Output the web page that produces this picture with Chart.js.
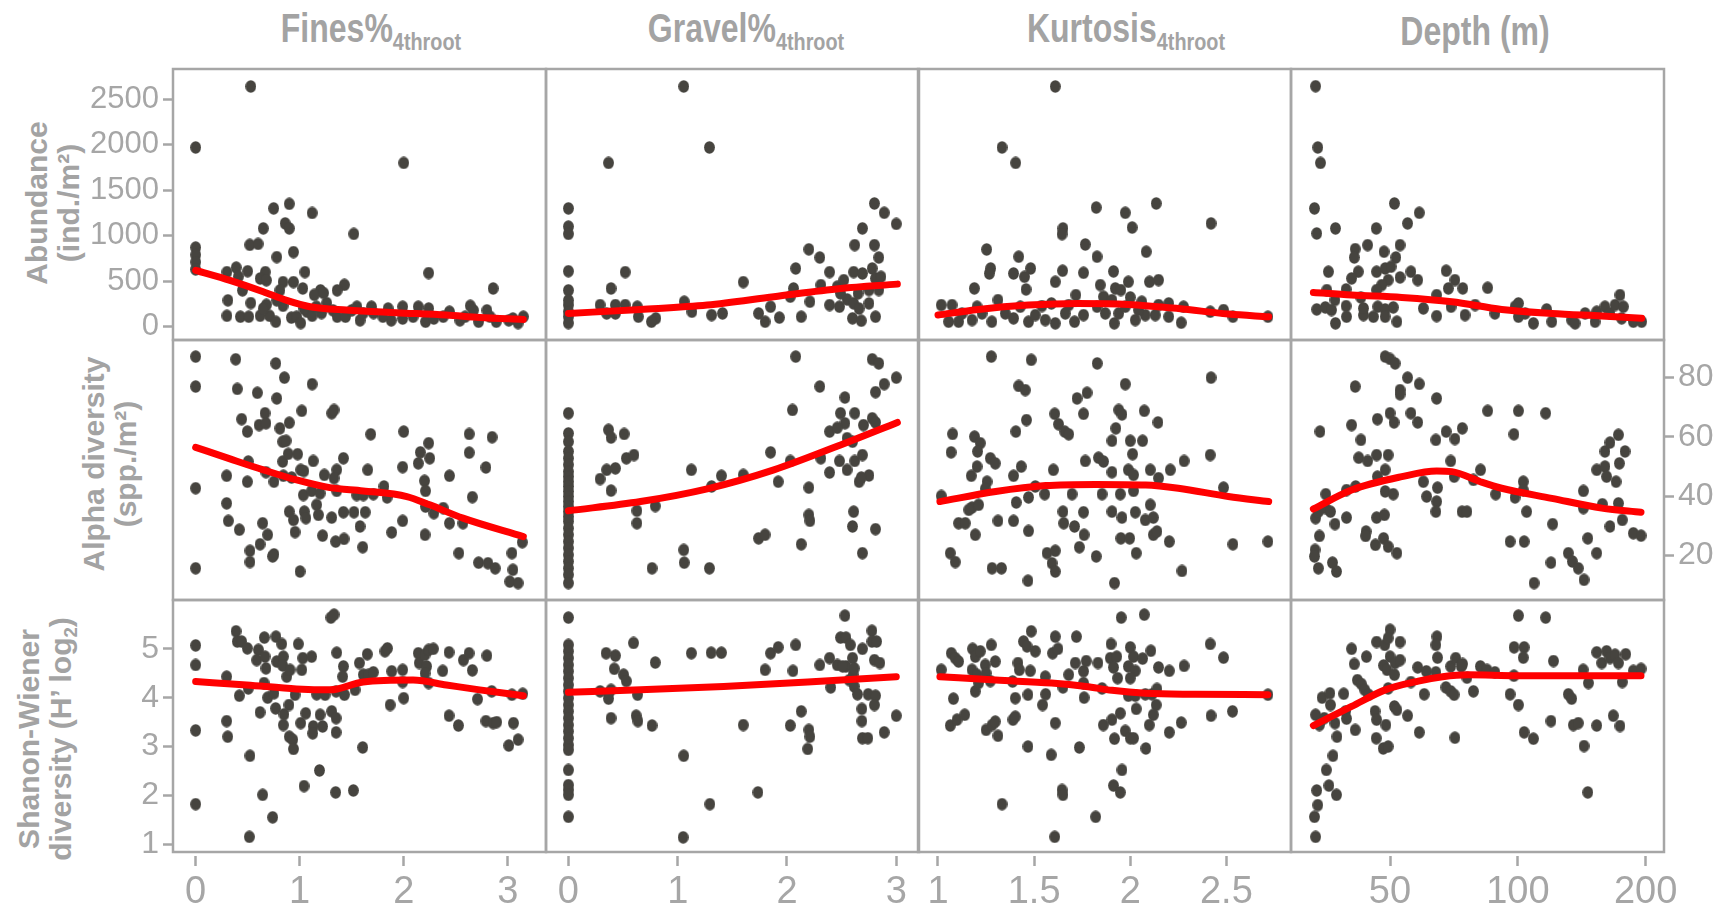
<!DOCTYPE html>
<html>
<head>
<meta charset="utf-8">
<script src="https://cdn.jsdelivr.net/npm/chart.js@4.4.0/dist/chart.umd.min.js"></script>
<style>
  body { margin: 0; width: 1722px; height: 913px; overflow: hidden; background: #fff; position: relative; }
  canvas { position: absolute; }
  .col-title, .row-label {
    position: absolute; color: #a3a3a3; font-family: 'Liberation Sans Narrow', 'Liberation Sans', sans-serif;
    font-weight: bold; white-space: nowrap; text-align: center;
  }
  .col-title { font-size: 40px; transform: translate(-50%, -50%) scaleX(0.8); }
  .row-label { font-size: 30px; line-height: 32px; transform: translate(-50%, -50%) rotate(-90deg); }
  sub { font-size: 62%; vertical-align: -0.3em; }
</style>
</head>
<body>
<div class="col-title" style="left:371px; top:31px">Fines%<sub>4throot</sub></div>
<div class="col-title" style="left:746px; top:31px">Gravel%<sub>4throot</sub></div>
<div class="col-title" style="left:1126px; top:31px">Kurtosis<sub>4throot</sub></div>
<div class="col-title" style="left:1475px; top:31px">Depth (m)</div>
<div class="row-label" style="left:53px; top:203px">Abundance<br>(ind./m²)</div>
<div class="row-label" style="left:110px; top:464px">Alpha diversity<br>(spp./m²)</div>
<div class="row-label" style="left:50px; top:739px">Shanon-Wiener<br>diversity (H’ log<sub>2</sub>)</div>

<script>
// tick values
const abundTicks = [0, 500, 1000, 1500, 2000, 2500];
const alphaTicks = [20, 40, 60, 80];
const shanTicks = [1, 2, 3, 4, 5];
const finesTicks = [0, 1, 2, 3];
const gravelTicks = [0, 1, 2, 3];
const kurtTicks = [1, 1.5, 2, 2.5];
const depthTicks = [50, 100, 200];

// ---- Abundance row ----
const abundFines = [[0.53,2640],[0,1970],[2.0,1800],[0.90,1350],[0.75,1300],[1.12,1250],[0.65,1080],[0.86,1135],[0.90,1080],[1.52,1020],[0.52,900],[0.60,910],[0.94,820],[0.78,765],[0,870],[0,790],[0,710],[0,630],[0.30,600],[0.39,650],[0.50,610],[0.67,600],[0.62,530],[0.68,510],[1.05,600],[2.24,590],[2.86,420],[0.41,550],[0.45,400],[0.84,490],[0.94,490],[0.81,400],[1.03,420],[1.43,460],[1.36,400],[1.20,400],[1.14,350],[0.31,290],[0.53,260],[0.68,240],[0.84,230],[0.30,120],[0.43,110],[0.51,110],[0.62,120],[0.71,120],[0.77,55],[0.92,100],[0.97,110],[1.01,40],[1.07,165],[1.12,120],[1.04,200],[1.21,150],[1.26,260],[1.32,180],[1.36,110],[1.44,110],[1.55,220],[1.58,70],[1.61,150],[1.69,220],[1.71,150],[1.85,200],[1.88,70],[1.99,220],[1.99,90],[2.14,220],[2.21,55],[2.24,200],[2.29,90],[2.38,110],[2.44,165],[2.54,70],[2.64,230],[2.67,180],[2.59,110],[2.72,55],[2.80,180],[2.83,110],[2.89,55],[3.01,70],[3.05,90],[3.10,40],[3.15,110],[1.80,110],[2.09,110],[1.23,370],[0.78,290],[0.65,200],[1.16,220],[1.50,180]];
const abundFinesFit = [[0,620],[0.33,510],[0.65,385],[0.875,290],[1.10,220],[1.45,183],[1.93,154],[2.41,128],[2.73,102],[3.15,80]];

const abundGravel = [[1.055,2640],[1.29,1970],[0.367,1800],[0,1300],[0,1100],[0,1020],[0,610],[0,400],[0,238],[0,165],[0,110],[0,40],[0,290],[2.80,1354],[2.89,1252],[3.0,1130],[2.69,1080],[2.62,897],[2.80,897],[2.20,850],[2.30,760],[2.84,760],[2.08,640],[2.39,600],[2.61,600],[2.69,585],[2.78,640],[2.81,530],[0.52,600],[1.60,490],[0.39,420],[2.06,420],[2.31,458],[2.46,440],[2.52,512],[2.75,403],[2.03,330],[2.21,275],[2.39,238],[2.48,220],[2.55,300],[2.61,256],[2.66,200],[2.75,256],[2.60,92],[2.68,66],[2.81,110],[2.13,110],[1.93,100],[1.85,220],[1.74,146],[1.80,55],[1.41,146],[1.31,128],[1.13,165],[1.06,275],[0.80,92],[0.76,55],[0.63,220],[0.64,110],[0.52,238],[0.43,238],[0.43,146],[0.35,146],[0.29,238],[2.84,403],[2.49,366],[2.65,366],[2.86,549]];
const abundGravelFit = [[0,146],[0.66,190],[1.27,238],[1.88,330],[2.49,420],[3.01,468]];

const abundKurt = [[1.61,2640],[1.333,1970],[1.404,1800],[1.823,1310],[1.974,1252],[2.135,1354],[2.01,1090],[2.42,1135],[1.65,1080],[1.645,1017],[1.766,904],[1.827,769],[2.083,824],[1.253,849],[1.274,640],[1.267,585],[1.42,769],[1.393,585],[1.482,640],[1.45,549],[1.458,410],[1.648,615],[1.61,494],[1.757,593],[1.913,608],[1.99,494],[1.844,458],[1.922,421],[1.951,403],[2.147,512],[2.10,494],[1.189,421],[1.717,348],[1.861,329],[1.905,293],[2.0,322],[2.06,275],[1.017,238],[1.073,238],[1.203,220],[1.312,293],[1.428,220],[1.54,227],[1.59,256],[1.68,238],[1.827,220],[2.147,238],[2.20,256],[2.277,220],[2.416,165],[2.485,183],[2.534,110],[2.716,110],[1.055,55],[1.107,55],[1.177,73],[1.28,55],[1.393,92],[1.471,55],[1.506,128],[1.558,73],[1.61,37],[1.71,55],[1.757,128],[1.917,37],[1.94,146],[2.026,73],[2.078,128],[2.13,128],[2.265,44],[2.20,110],[1.125,146],[1.229,146],[1.35,146],[1.662,146],[1.87,146],[1.974,220],[2.043,183]];
const abundKurtFit = [[1.0,128],[1.21,190],[1.47,238],[1.73,256],[1.99,245],[2.25,200],[2.51,139],[2.72,110]];

const abundDepth = [[33.4,2643],[33.8,1970],[34.3,1800],[33.2,1300],[33.6,1025],[37.2,1080],[51.2,1354],[58.6,1252],[55.0,1135],[46.4,1080],[44.3,897],[41.4,853],[41.2,761],[48.4,824],[52.8,897],[51.6,761],[35.8,604],[42.1,604],[40.6,531],[46.5,604],[48.7,640],[50.3,659],[52.8,542],[56.0,604],[58.1,512],[49.5,512],[47.8,458],[46.5,403],[39.4,410],[35.5,403],[42.7,322],[37.1,293],[33.6,190],[35.2,212],[36.4,183],[39.4,227],[39.5,110],[37.2,37],[43.3,128],[45.7,110],[46.8,220],[48.7,190],[50.9,212],[51.9,55],[48.7,110],[59.9,201],[64.4,348],[64.4,117],[67.8,615],[68.6,421],[71.1,512],[74.2,421],[69.6,220],[75.1,128],[79.3,238],[84.9,428],[88.3,146],[98.5,220],[100.3,256],[104,146],[108.8,37],[116.9,190],[120.2,55],[133.9,73],[144,146],[153.4,165],[160.4,220],[164.8,146],[169.4,238],[174.0,348],[177.2,220],[175.6,92],[187.1,55],[195.7,55],[136.4,37],[152,55],[100.3,110],[43.3,201]];
const abundDepthFit = [[33.0,377],[40.6,348],[53.3,322],[69.9,275],[91.6,190],[120.2,146],[157.6,117],[195.7,92]];

// ---- Alpha diversity row ----
const alphaFines = [[0,87.1],[0,77.0],[0,42.7],[0,15.7],[0.385,86.2],[0.40,76.2],[0.77,84.8],[0.853,80],[1.12,77.8],[0.593,74.9],[0.78,73.0],[0.442,66.0],[0.497,61.8],[0.61,64.0],[0.667,68.0],[0.676,64.6],[0.81,62.9],[0.90,64.8],[1.02,68.8],[1.308,68.0],[1.33,69.1],[0.837,58.4],[0.869,58.7],[1.683,60.9],[2.0,61.8],[2.63,61.0],[2.85,59.9],[2.63,54.7],[2.24,57.9],[2.16,54.8],[2.25,52.8],[2.14,51.1],[1.99,49.8],[2.79,49.7],[2.44,46.9],[2.20,45.2],[2.21,41.8],[2.66,39.7],[2.21,36.5],[2.29,34.3],[2.38,36.0],[2.44,30.9],[2.57,30.9],[2.53,20.8],[2.72,17.6],[2.81,17.4],[2.88,15.7],[3.04,20.8],[3.05,15.2],[3.02,11.2],[3.10,10.7],[3.14,24.5],[0.506,51.7],[0.676,48.1],[0.837,51.7],[0.89,54.3],[0.98,54.2],[1.13,51.9],[1.01,48.9],[1.04,48.5],[0.843,46.9],[0.298,46.9],[0.497,44.9],[0.753,44.9],[0.923,46.3],[1.237,47.2],[1.356,48.9],[1.33,46.1],[1.42,52.8],[1.654,48.9],[1.035,40.4],[1.115,41.8],[1.196,41.0],[1.356,41.8],[1.548,40.4],[1.612,40.4],[1.708,40.7],[1.81,43.3],[1.84,39.6],[0.298,37.6],[0.90,34.8],[0.94,32.0],[1.045,34.8],[1.06,32.6],[1.163,37.1],[1.18,33.7],[1.308,32.8],[1.42,34.6],[1.522,34.6],[1.63,34.6],[0.314,31.7],[0.42,28.7],[0.644,30.9],[0.692,27.0],[0.619,23.8],[0.522,21.6],[0.522,17.8],[0.753,20.4],[0.74,19.7],[0.955,27.9],[1.22,26.7],[1.346,24.7],[1.426,25.6],[1.58,29.8],[1.606,22.8],[1.885,27.8],[1.99,31.7],[2.205,27.0],[1.003,14.6]];
const alphaFinesFit = [[0,56.5],[0.33,52.6],[0.65,48.9],[0.97,45.5],[1.29,42.9],[1.61,41.8],[2.03,39.9],[2.25,37.1],[2.57,32.6],[3.15,26.4]];

const alphaGravel = [[0,68.0],[0,61.2],[0,58.4],[0,55.1],[0,52.8],[0,50.6],[0,48.3],[0,46.6],[0,44.9],[0,43.3],[0,41.6],[0,39.9],[0,38.2],[0,36.5],[0,34.8],[0,33.1],[0,31.5],[0,29.2],[0,27.0],[0,24.7],[0,22.5],[0,20.2],[0,18.0],[0,15.7],[0,13.5],[0,10.7],
  [2.08,87.1],[2.78,86.2],[2.84,84.8],[3.0,80.0],[2.89,77.8],[2.30,77.0],[2.81,75.1],[2.53,73.3],[2.05,69.1],[2.49,68.0],[2.62,68.0],[2.53,64.6],[2.70,64.0],[2.78,66.3],[2.81,64.9],[2.39,61.8],[2.46,63.1],[2.55,59.6],[2.60,58.4],[0.367,62.4],[0.39,59.8],[0.51,61.0],[0.53,52.8],[0.60,53.9],[1.85,54.8],[2.03,51.9],[2.31,52.8],[2.48,51.9],[2.62,51.9],[2.69,53.9],[2.55,48.9],[2.39,48.0],[0.29,45.8],[0.35,48.9],[0.43,49.4],[0.39,41.9],[1.125,48.9],[1.40,46.9],[1.60,47.2],[1.31,43.3],[1.92,44.9],[2.20,42.9],[2.66,44.9],[2.75,47.0],[2.68,46.3],[0.627,35.1],[0.627,30.9],[0.795,36.7],[2.20,33.7],[2.21,31.7],[2.61,34.8],[2.60,29.8],[2.81,28.9],[1.74,25.8],[1.80,27.0],[2.13,23.8],[2.69,20.8],[1.055,21.9],[1.06,17.6],[0.765,15.7],[1.29,15.7]];
const alphaGravelFit = [[0,35.1],[0.66,38.2],[1.27,42.5],[1.88,48.9],[2.49,57.3],[3.01,64.9]];

const alphaKurt = [[1.277,87.1],[1.485,86.0],[1.828,84.8],[2.42,80.0],[1.974,77.8],[1.42,77.2],[1.454,75.8],[1.723,73.0],[1.775,74.9],[1.757,67.8],[1.607,67.8],[1.46,65.7],[1.627,64.3],[1.659,61.8],[1.68,60.9],[1.94,69.1],[1.957,67.6],[2.073,68.8],[2.144,64.9],[1.925,62.9],[1.905,58.7],[2.0,58.7],[2.064,58.7],[2.012,54.2],[2.416,53.9],[1.405,61.8],[1.076,61.0],[1.068,54.8],[1.19,60.1],[1.22,57.9],[1.206,55.1],[1.272,52.8],[1.298,51.1],[1.203,50.0],[1.173,46.9],[1.433,50.0],[1.393,46.9],[1.60,48.9],[1.766,51.9],[1.835,53.0],[1.861,51.7],[1.905,48.1],[1.99,48.9],[2.017,47.2],[2.104,48.9],[2.147,46.1],[2.208,48.9],[2.28,51.9],[1.255,44.9],[1.246,42.5],[1.506,43.3],[1.017,40.1],[1.471,39.6],[1.555,40.7],[1.697,40.7],[1.853,40.7],[1.948,40.7],[2.017,41.8],[2.485,42.9],[1.407,37.9],[1.177,36.2],[1.211,37.1],[1.16,35.4],[1.107,30.9],[1.142,30.9],[1.194,27.0],[1.312,31.7],[1.393,31.7],[1.471,28.3],[1.65,34.8],[1.654,30.9],[1.71,29.8],[1.757,34.6],[1.76,27.0],[1.905,34.8],[1.957,32.8],[2.026,34.6],[2.104,37.1],[2.078,32.0],[2.12,32.8],[2.12,27.0],[2.139,28.1],[1.951,25.8],[1.997,25.8],[1.735,22.8],[2.203,24.7],[2.534,23.8],[2.716,24.7],[1.064,20.8],[1.09,17.8],[1.281,15.7],[1.33,15.7],[1.567,20.8],[1.61,21.6],[1.593,17.4],[1.61,14.6],[1.823,19.7],[2.031,20.8],[2.269,14.8],[1.468,11.5],[1.918,10.7]];
const alphaKurtFit = [[1.01,38.2],[1.30,41.6],[1.56,43.6],[1.82,44.0],[2.08,43.8],[2.25,42.7],[2.51,39.9],[2.72,38.2]];

const alphaDepth = [[48.7,87.1],[50,86.3],[51.4,84.8],[55.0,80.0],[58.6,77.9],[52.8,75.8],[52.8,74.4],[41.4,77.0],[64.4,73.0],[56.0,68.0],[58.1,64.9],[50.0,68.0],[51.1,64.9],[46.7,66.0],[40.6,64.0],[34.2,61.8],[42.7,59.0],[42.2,53.0],[44.3,51.9],[46.5,53.9],[49.5,53.9],[48.7,48.9],[46.7,46.6],[64.1,59.0],[67.8,61.8],[71.1,59.3],[74.0,62.9],[69.5,51.9],[70.8,46.6],[78.6,45.5],[81.7,48.9],[84.9,68.8],[100.3,68.8],[116.3,68.0],[97.9,60.9],[103,44.9],[103,42.1],[88.7,40.7],[98.5,39.6],[104.9,34.8],[59.9,44.9],[61.0,39.9],[64.7,42.9],[64.4,38.2],[64.1,34.8],[73.9,34.8],[75.9,34.8],[48.7,41.6],[50.9,40.7],[35.3,40.7],[39.5,42.1],[41.5,43.3],[33.4,32.6],[33.9,34.8],[35.2,36.0],[36.2,34.8],[37.1,30.6],[39.5,32.8],[46.5,32.8],[48.5,33.7],[43.9,28.1],[43.8,26.6],[46.2,23.6],[48.3,25.8],[49.5,23.0],[51.9,20.8],[34.1,26.6],[33.3,21.9],[33.2,19.7],[33.9,15.7],[36.6,17.6],[37.4,14.6],[95.9,24.7],[103.5,24.7],[120.8,30.6],[119.7,17.6],[109.2,10.7],[131.5,20.8],[134.4,18.0],[138.8,15.7],[143.2,11.8],[146.1,25.8],[153.4,20.8],[142.7,41.8],[142.7,36.0],[158.1,37.3],[153.4,48.9],[160.4,50.0],[161.8,46.6],[160.4,55.1],[164.8,58.1],[172.5,60.7],[178.8,55.1],[173.4,51.1],[170.3,44.9],[164.8,29.8],[176.2,32.0],[187.1,27.5],[195.0,26.7],[172.5,37.6]];
const alphaDepthFit = [[33.0,35.7],[40.6,42.1],[53.3,46.6],[64.4,48.5],[69.9,48.3],[81.6,44.9],[91.6,42.7],[120.2,39.3],[157.6,36.0],[195.0,34.6]];

// ---- Shannon-Wiener row ----
const shanFines = [[0,5.07],[0,4.67],[0,3.33],[0,1.82],[0.298,4.43],[0.298,3.52],[0.308,3.20],[0.388,5.36],[0.40,5.15],[0.442,5.15],[0.497,5.01],[0.42,4.04],[0.506,4.19],[0.522,2.81],[0.516,1.15],[0.603,4.98],[0.587,4.77],[0.66,5.23],[0.667,4.84],[0.676,4.60],[0.657,4.30],[0.692,4.0],[0.619,3.70],[0.644,2.01],[0.74,1.55],[0.772,5.25],[0.827,5.10],[0.779,4.74],[0.843,4.84],[0.837,4.66],[0.753,4.09],[0.769,3.78],[0.875,4.43],[0.907,4.57],[0.897,3.85],[0.849,3.66],[0.843,3.44],[0.90,3.20],[0.933,3.14],[0.94,2.95],[0.987,5.10],[1.03,4.81],[1.115,4.84],[1.02,4.57],[0.955,4.06],[1.01,3.48],[1.058,3.68],[1.13,3.41],[1.125,3.27],[1.163,4.07],[1.196,3.65],[1.22,3.41],[1.244,4.06],[1.308,3.72],[1.35,3.58],[1.35,3.29],[1.042,2.19],[1.19,2.51],[1.346,2.06],[1.516,2.10],[1.606,2.98],[1.30,5.64],[1.33,5.70],[1.356,4.92],[1.42,4.64],[1.413,4.43],[1.43,4.06],[1.532,4.16],[1.574,4.71],[1.65,4.89],[1.612,4.47],[1.66,4.47],[1.708,4.52],[1.82,4.95],[1.843,5.01],[1.885,4.54],[1.87,3.85],[1.99,4.57],[1.99,4.32],[2.0,3.99],[2.14,4.91],[2.15,4.71],[2.205,4.88],[2.24,4.98],[2.285,5.0],[2.22,4.64],[2.205,4.50],[2.24,4.30],[2.375,4.55],[2.436,4.93],[2.436,3.63],[2.526,3.43],[2.574,4.77],[2.628,4.91],[2.66,4.56],[2.71,3.97],[2.80,4.86],[2.79,3.52],[2.846,4.13],[2.86,3.48],[2.894,3.50],[3.01,3.02],[3.055,3.48],[3.10,3.14],[3.04,4.06],[3.144,4.08],[1.35,4.13]];
const shanFinesFit = [[0,4.33],[0.49,4.26],[0.97,4.18],[1.29,4.16],[1.61,4.32],[2.09,4.36],[2.41,4.26],[2.73,4.16],[3.15,4.04]];

const shanGravel = [[0,5.64],[0,5.08],[0,4.95],[0,4.81],[0,4.67],[0,4.54],[0,4.40],[0,4.26],[0,4.13],[0,3.99],[0,3.85],[0,3.72],[0,3.58],[0,3.44],[0,3.31],[0,3.17],[0,3.03],[0,2.93],[0,2.52],[0,2.21],[0,2.11],[0,2.01],[0,1.56],
  [0.345,4.91],[0.43,4.86],[0.42,4.59],[0.505,4.47],[0.53,4.34],[0.596,5.12],[0.795,4.72],[0.29,4.13],[0.367,4.09],[0.39,4.16],[0.367,3.98],[0.633,4.06],[0.39,3.58],[0.62,3.63],[0.636,3.52],[0.765,3.43],[1.125,4.91],[1.306,4.92],[1.40,4.92],[1.055,2.81],[1.294,1.82],[1.05,1.14],[1.60,3.44],[1.734,2.06],[1.80,4.57],[1.85,4.91],[1.92,5.03],[2.055,4.55],[2.08,5.08],[2.03,3.43],[2.13,3.72],[2.20,3.34],[2.21,3.20],[2.19,2.95],[2.30,4.67],[2.39,4.81],[2.40,4.21],[2.46,4.67],[2.53,5.68],[2.49,5.23],[2.54,5.23],[2.58,5.08],[2.54,4.64],[2.60,4.81],[2.605,4.47],[2.57,4.36],[2.615,4.23],[2.645,4.07],[2.69,5.0],[2.777,5.37],[2.777,5.15],[2.82,5.15],[2.80,4.77],[2.85,4.71],[2.743,4.07],[2.81,4.04],[2.80,3.85],[2.685,3.77],[2.685,3.52],[2.69,3.17],[2.74,3.17],[2.89,3.29],[3.0,3.63],[2.615,4.60],[2.51,4.64]];
const shanGravelFit = [[0,4.11],[0.66,4.16],[1.42,4.23],[2.19,4.32],[3.0,4.43]];

const shanKurt = [[1.017,4.57],[1.069,4.91],[1.09,4.81],[1.107,4.74],[1.18,5.0],[1.194,4.84],[1.22,4.95],[1.177,4.57],[1.203,4.47],[1.246,4.67],[1.25,4.50],[1.272,4.34],[1.277,5.08],[1.298,4.74],[1.194,4.13],[1.211,4.30],[1.08,3.98],[1.064,3.43],[1.099,3.55],[1.139,3.65],[1.25,3.34],[1.281,3.44],[1.298,3.51],[1.312,3.22],[1.333,1.82],[1.416,4.71],[1.423,4.57],[1.388,4.33],[1.402,3.99],[1.39,3.55],[1.445,5.15],[1.463,5.05],[1.485,5.36],[1.506,4.95],[1.48,4.55],[1.468,4.06],[1.558,4.43],[1.56,4.07],[1.544,3.85],[1.61,5.25],[1.596,4.91],[1.624,5.0],[1.65,4.21],[1.68,4.47],[1.714,4.71],[1.72,5.25],[1.61,3.48],[1.468,3.0],[1.589,2.83],[1.645,2.11],[1.65,2.01],[1.607,1.15],[1.735,2.98],[1.757,4.54],[1.771,4.75],[1.757,4.30],[1.76,4.0],[1.832,4.71],[1.853,4.19],[1.82,1.56],[1.86,3.44],[1.90,5.10],[1.896,4.81],[1.93,4.84],[1.913,4.62],[1.934,4.40],[1.905,3.55],[1.948,3.68],[1.918,3.16],[1.974,3.32],[2.0,3.17],[2.017,3.17],[1.957,2.52],[1.913,2.20],[1.948,2.06],[1.953,5.64],[2.073,5.70],[2.0,5.03],[2.017,4.84],[2.064,4.80],[2.107,4.96],[1.99,4.64],[2.026,4.55],[2.0,4.40],[1.99,4.04],[2.026,4.04],[2.031,3.77],[2.078,4.07],[2.113,4.07],[2.139,4.18],[2.135,3.85],[2.12,3.65],[2.099,3.44],[2.147,4.62],[2.203,4.55],[2.28,4.65],[2.203,3.29],[2.265,3.49],[2.081,2.96],[2.416,5.10],[2.485,4.82],[2.42,3.63],[2.532,3.72],[2.716,4.06],[1.402,3.61]];
const shanKurtFit = [[1.01,4.43],[1.30,4.36],[1.59,4.30],[1.77,4.23],[1.905,4.15],[2.08,4.09],[2.34,4.07],[2.716,4.06]];

const shanDepth = [[33.4,1.15],[33.2,1.56],[33.8,1.80],[33.6,2.10],[35.9,2.20],[37.4,2.01],[35.4,2.52],[36.7,2.81],[37.5,3.20],[37.1,3.48],[33.4,3.65],[34.1,3.44],[35.0,3.58],[34.6,4.0],[36.1,4.09],[38.9,4.08],[39.3,3.72],[39.5,3.57],[41.4,3.34],[40.6,5.0],[41.2,4.69],[41.9,4.36],[42.8,4.28],[43.6,4.16],[44.5,4.06],[46.1,3.72],[46.5,3.55],[46.4,3.17],[48.9,3.44],[48.2,2.96],[49.5,3.0],[46.5,5.14],[48.6,5.08],[50.0,5.39],[49.5,5.22],[52.8,5.14],[50.0,4.84],[48.3,4.66],[49.2,4.57],[51.4,4.71],[52.8,4.77],[51.2,4.47],[49.5,4.19],[51.2,3.82],[51.9,3.75],[55.0,3.63],[56.0,4.32],[58.1,4.62],[60.9,4.54],[60.2,4.07],[58.6,3.29],[64.5,5.25],[64.1,5.08],[64.7,4.82],[64.1,4.52],[67.7,4.21],[69.5,4.13],[70.8,4.06],[69.5,4.64],[71.4,4.81],[73.6,4.64],[74.1,4.69],[75.9,4.41],[71.1,3.18],[78.6,4.13],[81.6,4.64],[84.6,4.57],[88.3,4.52],[95.9,4.07],[97.9,4.45],[98.0,5.03],[100.3,5.68],[103.5,5.03],[103,4.82],[100.3,3.85],[103.5,3.29],[108.8,3.16],[116.3,5.64],[121.3,4.75],[119.7,3.52],[131.5,4.07],[133.9,3.98],[135.1,3.44],[138.8,3.48],[143.2,3.01],[142.5,4.57],[146.6,4.30],[146.1,2.06],[153.4,3.43],[153.4,4.93],[157.6,4.71],[161.8,4.95],[164.8,4.81],[169.4,4.88],[172.5,4.71],[179.5,4.89],[176.2,4.32],[167.8,3.63],[174.0,3.42],[187.1,4.55],[195.0,4.59],[36.2,3.85],[44.0,4.84]];
const shanDepthFit = [[33.0,3.43],[40.6,3.82],[48.7,4.16],[58.3,4.34],[66.5,4.43],[76.4,4.47],[100,4.45],[144,4.45],[195,4.45]];

// ---- layout ----
const GREY = '#a6a6a6';
const DOT = '#46443f';
const Y_FONT = "'Liberation Sans', Arial, sans-serif";
const X_FONT = "'Liberation Sans Narrow', 'Liberation Sans', sans-serif";
const colLeft = [173, 546, 918, 1291];
const colWidth = 373;
const rowTop = [69, 340, 600];
const rowHeight = [271, 260, 252];
const PAD = 3, LEFT_AXIS = 84, RIGHT_AXIS = 58, BOTTOM_AXIS = 60, LABEL_ROOM = 30;

const xAxes = [
  { min: -0.218, max: 3.368, ticks: finesTicks },
  { min: -0.205, max: 3.208, ticks: gravelTicks },
  { min: 0.896, max: 2.836, ticks: kurtTicks },
  { min: 29.23, max: 220.9, ticks: depthTicks, log: true }
];
const yAxes = [
  { min: -146, max: 2832, ticks: abundTicks, size: 31 },
  { min: 5.0, max: 92.7, ticks: alphaTicks, size: 32 },
  { min: 0.84, max: 6.0, ticks: shanTicks, size: 32 }
];
const panels = [
  [[abundFines, abundFinesFit], [abundGravel, abundGravelFit], [abundKurt, abundKurtFit], [abundDepth, abundDepthFit]],
  [[alphaFines, alphaFinesFit], [alphaGravel, alphaGravelFit], [alphaKurt, alphaKurtFit], [alphaDepth, alphaDepthFit]],
  [[shanFines, shanFinesFit], [shanGravel, shanGravelFit], [shanKurt, shanKurtFit], [shanDepth, shanDepthFit]]
];

// slightly tall dot, like the original markers
const dotImg = document.createElement('canvas');
dotImg.width = 11; dotImg.height = 13;
(() => {
  const c = dotImg.getContext('2d');
  c.fillStyle = DOT;
  c.beginPath();
  c.ellipse(5.5, 6.5, 5.4, 6.2, 0, 0, Math.PI * 2);
  c.fill();
})();

// box round each panel
const frame = {
  id: 'frame',
  afterDatasetsDraw(chart) {
    const { ctx, chartArea: a } = chart;
    ctx.save();
    ctx.strokeStyle = GREY;
    ctx.lineWidth = 2.5;
    ctx.strokeRect(a.left, a.top, a.right - a.left, a.bottom - a.top);
    ctx.restore();
  }
};

function makeScale(ax, show, position, isX) {
  return {
    type: ax.log ? 'logarithmic' : 'linear',
    position,
    display: show,
    min: ax.min,
    max: ax.max,
    afterBuildTicks: s => { s.ticks = ax.ticks.map(v => ({ value: v })); },
    afterFit: s => {
      // fixed axis sizes so every panel box lines up
      s.paddingLeft = s.paddingRight = s.paddingTop = s.paddingBottom = 0;
      if (!show) { s.width = 0; s.height = 0; return; }
      if (isX) s.height = BOTTOM_AXIS;
      else s.width = position === 'left' ? LEFT_AXIS : RIGHT_AXIS;
    },
    border: { display: false },
    grid: {
      drawOnChartArea: false,
      drawTicks: true,
      tickLength: isX ? 14 : 10,
      tickColor: GREY,
      tickWidth: 2.5,
      tickBorderDash: isX ? [0, 4, 10, 40] : []
    },
    ticks: {
      color: GREY,
      font: { family: isX ? X_FONT : Y_FONT, size: isX ? 38 : ax.size },
      padding: 4,
      maxRotation: 0,
      autoSkip: false,
      callback: v => String(v)
    }
  };
}

panels.forEach((row, r) => row.forEach(([pts, fit], c) => {
  const showLeft = c === 0 && r !== 1;
  const showRight = c === 3 && r === 1;
  const showBottom = r === 2;
  // last x label ("200") hangs past the right edge of the last panel
  const extraRight = showBottom && c === 3 ? LABEL_ROOM : 0;
  const canvas = document.createElement('canvas');
  canvas.width = colWidth + 2 * PAD + (showLeft ? LEFT_AXIS : 0) + (showRight ? RIGHT_AXIS : 0) + extraRight;
  canvas.height = rowHeight[r] + 2 * PAD + (showBottom ? BOTTOM_AXIS : 0);
  canvas.style.left = (colLeft[c] - PAD - (showLeft ? LEFT_AXIS : 0)) + 'px';
  canvas.style.top = (rowTop[r] - PAD) + 'px';
  document.body.appendChild(canvas);

  new Chart(canvas, {
    type: 'scatter',
    data: {
      datasets: [
        {
          data: fit.map(([x, y]) => ({ x, y })),
          showLine: true,
          borderColor: '#ff0000',
          borderWidth: 7,
          borderCapStyle: 'round',
          pointRadius: 0,
          cubicInterpolationMode: 'monotone',
          order: 0
        },
        {
          data: pts.map(([x, y]) => ({ x, y })),
          pointStyle: dotImg,
          pointRadius: 5,
          backgroundColor: DOT,
          borderColor: DOT,
          borderWidth: 0,
          order: 1
        }
      ]
    },
    options: {
      responsive: false,
      animation: false,
      events: [],
      layout: { autoPadding: false, padding: { left: PAD, top: PAD, bottom: PAD, right: PAD + extraRight } },
      plugins: { legend: { display: false }, tooltip: { enabled: false } },
      scales: {
        x: makeScale(xAxes[c], showBottom, 'bottom', true),
        y: makeScale(yAxes[r], showLeft || showRight, showRight ? 'right' : 'left', false)
      }
    },
    plugins: [frame]
  });
}));
</script>
</body>
</html>
